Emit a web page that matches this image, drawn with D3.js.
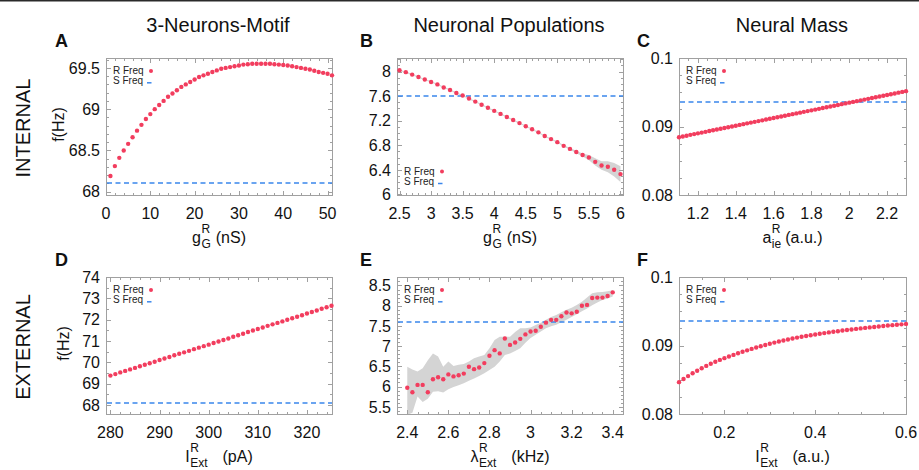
<!DOCTYPE html>
<html><head><meta charset="utf-8">
<script src="https://cdn.jsdelivr.net/npm/d3@7"></script>
<style>
body{margin:0;background:#fff}
svg{display:block}
text{font-family:"Liberation Sans",Arial,Helvetica,sans-serif;fill:#111}
</style>
</head><body>
<svg id="c" width="919" height="470"></svg>
<script>
// ---------------- DATA ----------------
const columnTitles = ["3-Neurons-Motif", "Neuronal Populations", "Neural Mass"];
const rowTitles = ["INTERNAL", "EXTERNAL"];
const legendLabels = ["R Freq", "S Freq"];

// A: 3-Neurons-Motif, internal (g_G^R in nS)
const aX = d3.range(1, 52, 1);
const aR = [68.19,68.31,68.41,68.50,68.58,68.66,68.74,68.81,68.88,68.94,
            69.00,69.05,69.10,69.15,69.19,69.23,69.27,69.30,69.33,69.36,
            69.39,69.41,69.43,69.45,69.47,69.49,69.50,69.51,69.52,69.53,
            69.54,69.545,69.55,69.55,69.55,69.55,69.55,69.545,69.54,69.535,
            69.53,69.52,69.51,69.50,69.49,69.48,69.465,69.45,69.44,69.43,69.41];
const aS = 68.1;
const aXTicks = [0,10,20,30,40,50];
const aYTicks = [68,68.5,69,69.5];

// B: Neuronal populations, internal
const bX = d3.range(2.5, 6.001, 0.1);
const bR = [8.02,7.99,7.95,7.91,7.87,7.83,7.79,7.74,7.70,7.65,
            7.61,7.56,7.51,7.46,7.41,7.36,7.31,7.26,7.21,7.16,
            7.11,7.06,7.01,6.95,6.90,6.85,6.79,6.74,6.69,6.64,
            6.60,6.53,6.47,6.45,6.40,6.33];
const bLo = [8.01,7.98,7.94,7.90,7.86,7.82,7.78,7.73,7.69,7.64,
             7.60,7.55,7.50,7.45,7.40,7.35,7.30,7.25,7.20,7.15,
             7.10,7.05,7.00,6.94,6.89,6.84,6.778,6.725,6.67,6.615,
             6.555,6.47,6.40,6.36,6.29,6.20];
const bHi = [8.03,8.00,7.96,7.92,7.88,7.84,7.80,7.75,7.71,7.66,
             7.62,7.57,7.52,7.47,7.42,7.37,7.32,7.27,7.22,7.17,
             7.12,7.07,7.02,6.96,6.91,6.86,6.802,6.755,6.71,6.665,
             6.64,6.59,6.54,6.54,6.51,6.46];
const bS = 7.6;
const bXTicks = [2.5,3,3.5,4,4.5,5,5.5,6];
const bYTicks = [6,6.4,6.8,7.2,7.6,8];

// C: Neural mass, internal (a_ie^R)
const cX = d3.range(1.1, 2.3001, 0.02);
const cR = [0.08844,0.08855,0.08866,0.08878,0.08889,0.08900,0.08911,0.08922,0.08934,0.08945,
            0.08956,0.08967,0.08978,0.08990,0.09001,0.09012,0.09023,0.09034,0.09046,0.09057,
            0.09068,0.09079,0.09090,0.09102,0.09113,0.09124,0.09135,0.09146,0.09158,0.09169,
            0.09180,0.09191,0.09202,0.09214,0.09225,0.09236,0.09247,0.09258,0.09270,0.09281,
            0.09292,0.09303,0.09314,0.09326,0.09337,0.09348,0.09359,0.09370,0.09382,0.09393,
            0.09404,0.09415,0.09426,0.09438,0.09449,0.09460,0.09471,0.09482,0.09494,0.09505,0.09516];
const cS = 0.0936;
const cXTicks = [1.2,1.4,1.6,1.8,2,2.2];
const cYTicks = [0.08,0.09,0.1];

// D: 3-Neurons-Motif, external (I_Ext^R in pA)
const dX = d3.range(280, 326, 1);
const dR = [69.38,69.45,69.53,69.60,69.67,69.74,69.82,69.89,69.96,70.03,
            70.11,70.18,70.25,70.33,70.40,70.47,70.54,70.62,70.69,70.76,
            70.83,70.91,70.98,71.05,71.12,71.20,71.27,71.34,71.42,71.49,
            71.56,71.63,71.71,71.78,71.85,71.92,72.00,72.07,72.14,72.21,
            72.29,72.36,72.43,72.51,72.58,72.65];
const dS = 68.1;
const dXTicks = [280,290,300,310,320];
const dYTicks = [68,69,70,71,72,73,74];

// E: Neuronal populations, external (lambda_Ext^R in kHz)
const eX = d3.range(2.4, 3.4001, 0.025);
const eR = [5.97,5.86,6.04,6.04,5.86,6.18,6.23,6.18,6.30,6.25,
            6.28,6.32,6.49,6.43,6.47,6.58,6.76,6.90,6.82,7.19,
            7.03,7.09,7.18,7.29,7.36,7.38,7.48,7.58,7.65,7.65,
            7.74,7.83,7.81,7.85,8.00,8.02,8.19,8.20,8.20,8.24,8.33];
const eLo = [5.30,5.35,5.75,5.62,5.70,5.87,5.88,5.85,5.93,5.99,
             6.03,6.08,6.14,6.20,6.26,6.33,6.41,6.49,6.62,6.78,
             6.82,6.88,6.95,7.08,7.20,7.28,7.36,7.44,7.49,7.53,
             7.59,7.65,7.72,7.79,7.86,7.93,8.01,8.08,8.14,8.18,8.23];
const eHi = [6.49,6.42,6.37,6.45,6.65,6.82,6.74,6.49,6.62,6.51,
             6.54,6.56,6.62,6.70,6.74,6.78,6.95,7.15,7.23,7.23,
             7.23,7.35,7.44,7.44,7.46,7.52,7.58,7.65,7.72,7.77,
             7.84,7.90,7.95,8.02,8.10,8.20,8.31,8.33,8.34,8.36,8.38];
const eS = 7.6;
const eXTicks = [2.4,2.6,2.8,3,3.2,3.4];
const eYTicks = [5.5,6,6.5,7,7.5,8,8.5];

// F: Neural mass, external (I_Ext^R in a.u.)
const fX = d3.range(0.1, 0.6001, 0.01);
const fR = [0.08465,0.08510,0.08553,0.08594,0.08632,0.08668,0.08702,0.08734,0.08763,0.08790,
            0.08815,0.08840,0.08863,0.08886,0.08908,0.08929,0.08950,0.08970,0.08989,0.09007,
            0.09025,0.09042,0.09058,0.09073,0.09088,0.09102,0.09115,0.09127,0.09139,0.09150,
            0.09161,0.09171,0.09181,0.09191,0.09200,0.09209,0.09218,0.09226,0.09234,0.09242,
            0.09250,0.09257,0.09264,0.09271,0.09278,0.09285,0.09291,0.09297,0.09303,0.09309,0.09315];
const fS = 0.0936;
const fXTicks = [0.2,0.4,0.6];
const fYTicks = [0.08,0.09,0.1];

// ---------------- LAYOUT ----------------
const colX = [[106,332],[397,623],[679,906]];
const rowY = [[58,195],[277,414]];
const RED = "#f23d5e", BLUE = "#3a87ec", FRAME = "#a0a0a0", BAND = "#d4d4d4";

const panels = [
  {k:"A",c:0,r:0,x:aX,y:aR,s:aS,xd:[0,51],yd:[67.96,69.62],xt:aXTicks,yt:aYTicks,xm:2,ym:0.1,leg:"top",
   xl:{b:"g",sub:"G",sup:"R",rest:"(nS)",gap:5},yl:"f(Hz)"},
  {k:"B",c:1,r:0,x:bX,y:bR,lo:bLo,hi:bHi,s:bS,xd:[2.46,6.04],yd:[5.99,8.22],xt:bXTicks,yt:bYTicks,xm:0.1,ym:0.1,leg:"bottom",
   xl:{b:"g",sub:"G",sup:"R",rest:"(nS)",gap:5}},
  {k:"C",c:2,r:0,x:cX,y:cR,s:cS,xd:[1.1,2.3],yd:[0.08,0.1],xt:cXTicks,yt:cYTicks,xm:0.05,ym:0.0025,leg:"top",
   xl:{b:"a",sub:"ie",sup:"R",rest:"(a.u.)",gap:4}},
  {k:"D",c:0,r:1,x:dX,y:dR,s:dS,xd:[279.1,325.1],yd:[67.58,74],xt:dXTicks,yt:dYTicks,xm:2,ym:0.5,leg:"top",
   xl:{b:"I",sub:"Ext",sup:"R",rest:"(pA)",gap:15},yl:"f(Hz)"},
  {k:"E",c:1,r:1,x:eX,y:eR,lo:eLo,hi:eHi,s:eS,xd:[2.35,3.45],yd:[5.32,8.71],xt:eXTicks,yt:eYTicks,xm:0.05,ym:0.1,leg:"top",
   xl:{b:"λ",sub:"Ext",sup:"R",rest:"(kHz)",gap:15}},
  {k:"F",c:2,r:1,x:fX,y:fR,s:fS,xd:[0.1,0.6],yd:[0.08,0.1],xt:fXTicks,yt:fYTicks,xm:0.05,ym:0.0025,leg:"top",
   xl:{b:"I",sub:"Ext",sup:"R",rest:"(a.u.)",gap:15}}
];

const svg = d3.select("#c");
svg.append("rect").attr("x",0).attr("y",0).attr("width",919).attr("height",470).attr("fill","#fff");
svg.append("rect").attr("x",0).attr("y",0).attr("width",919).attr("height",1.5).attr("fill","#2a2a2a");

// column titles
const titleX = [218, 509, 792];
columnTitles.forEach((t,i)=>{
  svg.append("text").attr("x",titleX[i]).attr("y",32).attr("text-anchor","middle")
    .attr("font-size",20).text(t);
});
// row titles
const rowCy = [128, 347];
rowTitles.forEach((t,i)=>{
  svg.append("text").attr("transform",`translate(30,${rowCy[i]}) rotate(-90)`)
    .attr("text-anchor","middle").attr("font-size",20).text(t);
});

function minorVals(dom, step){
  const out=[]; const s=Math.ceil(dom[0]/step-1e-6);
  for(let i=s; i*step<=dom[1]+1e-9; i++) out.push(+(i*step).toFixed(6));
  return out;
}
function fmt(v){ return String(+v.toFixed(4)); }
const crisp = v => Math.round(v)+0.5;

function richLabel(cx, y, p){
  const g = svg.append("g");
  const tb = g.append("text").attr("y",y).attr("font-size",16).text(p.b);
  const ts = g.append("text").attr("y",y+5).attr("font-size",12).text(p.sub);
  const tp = g.append("text").attr("y",y-10).attr("font-size",12).text(p.sup);
  const tr = g.append("text").attr("y",y).attr("font-size",16).text(p.rest);
  const wb=tb.node().getComputedTextLength(), ws=ts.node().getComputedTextLength(),
        wp=tp.node().getComputedTextLength(), wr=tr.node().getComputedTextLength();
  const wm=Math.max(ws,wp);
  const total=wb+0.5+wm+p.gap+wr;
  const x0=cx-total/2;
  tb.attr("x",x0); ts.attr("x",x0+wb+0.5); tp.attr("x",x0+wb+0.5);
  tr.attr("x",x0+wb+0.5+wm+p.gap);
}

panels.forEach((p,pi)=>{
  const [L,R]=colX[p.c], [T,B]=rowY[p.r];
  const x=d3.scaleLinear().domain(p.xd).range([L,R]);
  const y=d3.scaleLinear().domain(p.yd).range([B,T]);
  const g=svg.append("g");
  const clipId="clip"+pi;
  g.append("clipPath").attr("id",clipId).append("rect")
    .attr("x",L).attr("y",T).attr("width",R-L).attr("height",B-T);

  // band
  if(p.lo){
    const area=d3.area().x((d,i)=>x(p.x[i])).y0((d,i)=>y(p.lo[i])).y1((d,i)=>y(p.hi[i]));
    g.append("path").datum(p.y).attr("d",area).attr("fill",BAND).attr("clip-path",`url(#${clipId})`);
  }

  // frame + ticks
  const fr=g.append("g").attr("stroke",FRAME).attr("stroke-width",1).attr("fill","none");
  const cL=crisp(L), cR=crisp(R), cT=crisp(T), cB=crisp(B);
  fr.append("rect").attr("x",cL).attr("y",cT).attr("width",cR-cL).attr("height",cB-cT);
  const xMaj=new Set(p.xt.map(fmt)), yMaj=new Set(p.yt.map(fmt));
  minorVals(p.xd,p.xm).forEach(v=>{
    const len = xMaj.has(fmt(v))?4.5:2.5, xx=crisp(x(v));
    fr.append("line").attr("x1",xx).attr("x2",xx).attr("y1",cB).attr("y2",cB-len);
    fr.append("line").attr("x1",xx).attr("x2",xx).attr("y1",cT).attr("y2",cT+len);
  });
  p.xt.forEach(v=>{ const xx=crisp(x(v));
    fr.append("line").attr("x1",xx).attr("x2",xx).attr("y1",cB).attr("y2",cB-4.5);
    fr.append("line").attr("x1",xx).attr("x2",xx).attr("y1",cT).attr("y2",cT+4.5);
  });
  minorVals(p.yd,p.ym).forEach(v=>{
    const len = yMaj.has(fmt(v))?4.5:2.5, yy=crisp(y(v));
    fr.append("line").attr("y1",yy).attr("y2",yy).attr("x1",cL).attr("x2",cL+len);
    fr.append("line").attr("y1",yy).attr("y2",yy).attr("x1",cR).attr("x2",cR-len);
  });
  p.yt.forEach(v=>{ const yy=crisp(y(v));
    fr.append("line").attr("y1",yy).attr("y2",yy).attr("x1",cL).attr("x2",cL+4.5);
    fr.append("line").attr("y1",yy).attr("y2",yy).attr("x1",cR).attr("x2",cR-4.5);
  });

  // S freq dashed line
  const sy = Math.round(y(p.s));
  g.append("line").attr("x1",L+1).attr("x2",R).attr("y1",sy).attr("y2",sy)
    .attr("stroke",BLUE).attr("stroke-width",1.5).attr("stroke-dasharray","5,3.5");

  // tick labels
  p.xt.forEach(v=>{
    g.append("text").attr("x",x(v)).attr("y",B+23.5).attr("text-anchor","middle")
      .attr("font-size",16).text(fmt(v));
  });
  p.yt.forEach(v=>{
    g.append("text").attr("x",L-6).attr("y",y(v)+5.8).attr("text-anchor","end")
      .attr("font-size",16).text(fmt(v));
  });

  // points
  g.append("g").selectAll("circle").data(p.y).join("circle")
    .attr("cx",(d,i)=>x(p.x[i])).attr("cy",d=>y(d)).attr("r",2.2).attr("fill",RED);

  // legend
  const b1 = p.leg==="top" ? T+16.3 : B-20, b2=b1+10;
  g.append("text").attr("x",L+7).attr("y",b1).attr("font-size",10).style("fill","#222").text(legendLabels[0]);
  g.append("text").attr("x",L+7).attr("y",b2).attr("font-size",10).style("fill","#222").text(legendLabels[1]);
  g.append("circle").attr("cx",L+45).attr("cy",b1-3.4).attr("r",2).attr("fill",RED);
  g.append("line").attr("x1",L+41).attr("x2",L+45.5).attr("y1",b2-1.5).attr("y2",b2-1.5)
    .attr("stroke",BLUE).attr("stroke-width",1.5);

  // panel letter
  g.append("text").attr("x",[55,360,637][p.c]).attr("y",[46.5,265.5][p.r])
    .attr("font-size",18).attr("font-weight","bold").text(p.k);

  // axis labels
  richLabel((L+R)/2, B+48, p.xl);
  if(p.yl){
    const lx = p.r===0 ? 64 : 68.5;
    g.append("text").attr("transform",`translate(${lx},${(T+B)/2-2}) rotate(-90)`)
      .attr("text-anchor","middle").attr("font-size",16).text(p.yl);
  }
});
</script>
</body></html>
